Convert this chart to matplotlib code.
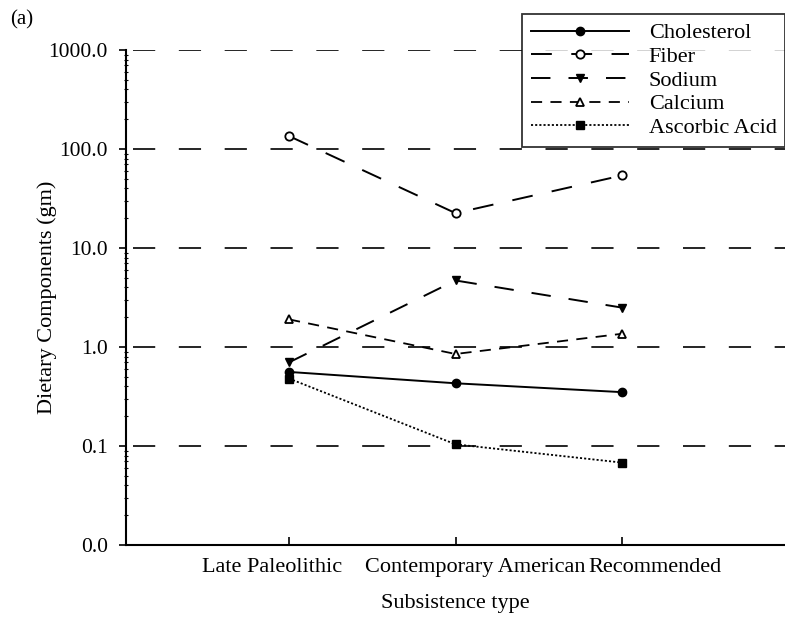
import numpy as np
import matplotlib.pyplot as plt
from matplotlib import transforms

plt.rcParams['font.family'] = ['Liberation Serif', 'DejaVu Serif']
plt.rcParams['lines.scale_dashes'] = False

# data (gm, log axis)
groups = ['Late Paleolithic', 'Contemporary American', 'Recommended']
cholesterol = [0.56, 0.43, 0.35]
fiber = [135.0, 22.5, 54.0]
sodium = [0.70, 4.7, 2.5]
calcium = [1.9, 0.85, 1.36]
ascorbic = [0.48, 0.104, 0.068]

ytick_vals = [0.01, 0.1, 1, 10, 100, 1000]
ytick_labels = ['0.0', '0.1', '1.0', '10.0', '100.0', '1000.0']

# horizontal nudges of the category labels (they are not centred on the ticks)
label_shift = [-0.10, 0.12, 0.20]

fig = plt.figure(figsize=(7.85, 6.2), dpi=100)
ax = fig.add_axes([126 / 785, 75 / 620, 1 - 126 / 785, 495 / 620])

x = np.arange(len(groups))
ax.set_yscale('log')
ax.set_ylim(0.01, 1000)
ax.set_xlim(-0.98, 2.98)

# dashed reference lines at each decade (start just right of the axis)
for v in ytick_vals[1:]:
    ax.axhline(v, xmin=0.01, color='black', lw=1.2, dashes=(16, 17), zorder=1)

ms = 6
ax.plot(x, cholesterol, color='black', lw=1.4, marker='o', ms=ms,
        label='Cholesterol')
ax.plot(x, fiber, color='black', lw=1.4, dashes=(15, 14), marker='o', ms=ms,
        mfc='white', mec='black', mew=1.3, label='Fiber')
ax.plot(x, sodium, color='black', lw=1.4, dashes=(14, 13), marker='v', ms=ms,
        label='Sodium')
ax.plot(x, calcium, color='black', lw=1.3, dashes=(8, 6), marker='^', ms=ms,
        mfc='white', mec='black', mew=1.3, label='Calcium')
ax.plot(x, ascorbic, color='black', lw=1.3, dashes=(1.5, 1.5), marker='s',
        ms=ms, label='Ascorbic Acid')

for s in ['top', 'right']:
    ax.spines[s].set_visible(False)
for s in ['left', 'bottom']:
    ax.spines[s].set_linewidth(1.5)

ax.set_yticks(ytick_vals)
ax.set_yticklabels(ytick_labels, fontsize=15.5)
ax.tick_params(axis='y', which='major', direction='out', length=5, width=1.2,
               pad=8)
ax.tick_params(axis='y', which='minor', direction='inout', length=3, width=0.8)

ax.set_xticks(x)
ax.set_xticklabels([''] * len(groups))
ax.tick_params(axis='x', which='major', direction='in', length=6, width=1.2)
ax.tick_params(axis='x', which='minor', bottom=False)

trans = transforms.blended_transform_factory(ax.transData, ax.transAxes)
for i, g in enumerate(groups):
    ax.text(x[i] + label_shift[i], -0.045, g, transform=trans,
            ha='center', va='center', fontsize=16)

ax.set_xlabel('Subsistence type', fontsize=16)
ax.xaxis.set_label_coords(0.5, -0.098)
ax.set_ylabel('Dietary Components (gm)', fontsize=16)
ax.yaxis.set_label_coords(-0.104, 0.5)

fig.text(10 / 785, 1 - 20 / 620, '(a)', fontsize=15, va='center')

leg = ax.legend(loc='upper left', bbox_to_anchor=(522 / 785, 1 - 14 / 620),
                bbox_transform=fig.transFigure, fontsize=16, frameon=True,
                fancybox=False, handlelength=4.4, handletextpad=0.9,
                labelspacing=0.14, borderpad=0.4, borderaxespad=0)
leg.get_frame().set_edgecolor('black')
leg.get_frame().set_linewidth(1.3)

fig.savefig('out.png', dpi=100)
